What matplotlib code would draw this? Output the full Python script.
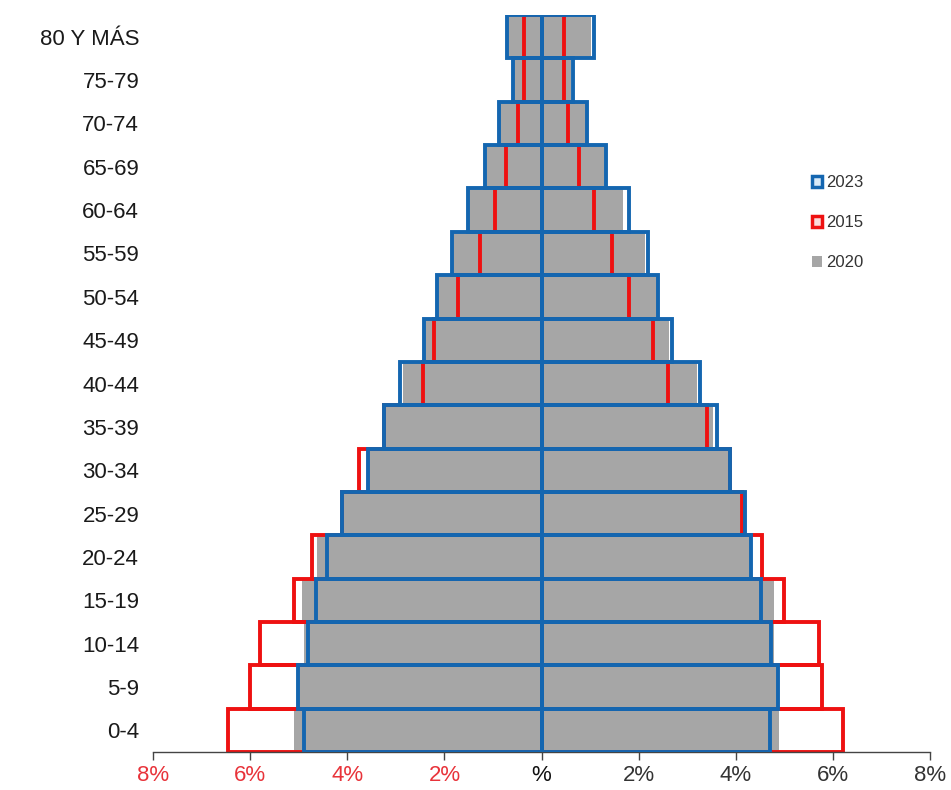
import matplotlib.pyplot as plt
import numpy as np
from matplotlib.patches import Patch

plt.rcParams['font.family'] = ['Liberation Sans', 'DejaVu Sans']

# age groups, bottom to top
ages = ["0-4", "5-9", "10-14", "15-19", "20-24", "25-29", "30-34", "35-39",
        "40-44", "45-49", "50-54", "55-59", "60-64", "65-69", "70-74", "75-79",
        "80 Y MÁS"]

# left side (shown as negative), percent of population
left_2023 = [4.89, 5.02, 4.82, 4.65, 4.42, 4.12, 3.58, 3.25, 2.91, 2.43, 2.15, 1.85,
             1.52, 1.17, 0.88, 0.58, 0.72]
left_2015 = [6.46, 6.01, 5.79, 5.09, 4.72, 4.12, 3.77, 3.25, 2.44, 2.22, 1.73, 1.27,
             0.95, 0.74, 0.48, 0.36, 0.36]
left_2020 = [5.09, 5.02, 4.90, 4.93, 4.62, 4.12, 3.58, 3.25, 2.85, 2.43, 2.13, 1.84,
             1.50, 1.15, 0.86, 0.57, 0.69]

# right side
right_2023 = [4.71, 4.86, 4.72, 4.52, 4.31, 4.19, 3.88, 3.61, 3.26, 2.69, 2.40, 2.19,
              1.81, 1.33, 0.94, 0.65, 1.07]
right_2015 = [6.20, 5.77, 5.72, 5.00, 4.53, 4.12, 3.87, 3.40, 2.61, 2.30, 1.79, 1.46,
              1.07, 0.78, 0.55, 0.46, 0.47]
right_2020 = [4.89, 4.86, 4.78, 4.78, 4.31, 4.17, 3.86, 3.54, 3.19, 2.62, 2.37, 2.12,
              1.68, 1.30, 0.92, 0.60, 1.01]

xticks = [-8, -6, -4, -2, 0, 2, 4, 6, 8]
xticklabels = ["8%", "6%", "4%", "2%", "%", "2%", "4%", "6%", "8%"]

BLUE = "#1466b0"
RED = "#ee1111"
GRAY = "#a6a6a6"

fig = plt.figure(figsize=(9.51, 7.9), dpi=100)
ax = fig.add_axes([0.161, 0.048, 0.817, 0.933])

y = np.arange(len(ages))
lw = 2.8

for side, v23, v15, v20 in [(-1, left_2023, left_2015, left_2020),
                            (1, right_2023, right_2015, right_2020)]:
    ax.barh(y, side * np.array(v20), height=1.0, color=GRAY, edgecolor="none", zorder=1)
    ax.barh(y, side * np.array(v15), height=1.0, facecolor="none", edgecolor=RED,
            linewidth=lw, zorder=2)
    ax.barh(y, side * np.array(v23), height=1.0, facecolor="none", edgecolor=BLUE,
            linewidth=lw, zorder=3)

ax.axvline(0, color=BLUE, linewidth=lw, zorder=4)

ax.set_xlim(-8, 8)
ax.set_ylim(-0.5, len(ages) - 0.5)
ax.set_yticks(y)
ax.set_yticklabels(ages, fontsize=16, color="#1a1a1a")
ax.tick_params(axis="y", length=0, pad=10)
ax.set_xticks(xticks)
ax.set_xticklabels(xticklabels, fontsize=16)
ax.tick_params(axis="x", length=6, width=1, color="#444444", pad=3)
for lab, t in zip(ax.get_xticklabels(), xticks):
    if t < 0:
        lab.set_color("#e8333a")
    elif t == 0:
        lab.set_color("#111111")
    else:
        lab.set_color("#333333")

for s in ["top", "right", "left"]:
    ax.spines[s].set_visible(False)
ax.spines["bottom"].set_color("#444444")
ax.spines["bottom"].set_linewidth(1.0)

handles = [Patch(facecolor="#d8eaf8", edgecolor=BLUE, linewidth=2.5, label="2023"),
           Patch(facecolor="#fbdada", edgecolor=RED, linewidth=2.5, label="2015"),
           Patch(facecolor=GRAY, edgecolor="none", label="2020")]
fig.legend(handles=handles, loc="upper left", bbox_to_anchor=(0.838, 0.797),
           frameon=False, fontsize=12, handlelength=0.6, handleheight=0.6,
           handletextpad=0.25, labelspacing=1.5, labelcolor="#333333")

fig.savefig("out.png", dpi=100)
